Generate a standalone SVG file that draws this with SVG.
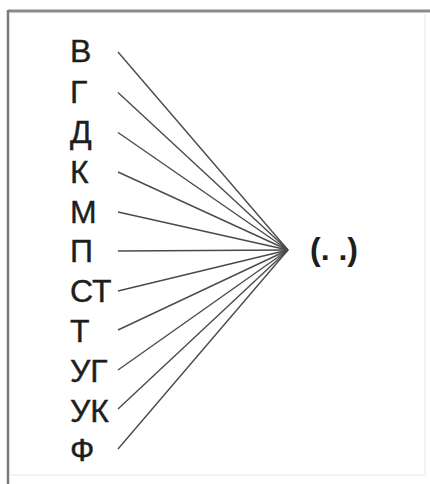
<svg xmlns="http://www.w3.org/2000/svg" width="430" height="484" viewBox="0 0 430 484">
<style>
.lbl{font-family:"Liberation Sans",Arial,sans-serif;font-size:32px;fill:#1e1e1e;stroke:#1e1e1e;stroke-width:0.4}
.res{font-family:"Liberation Sans",Arial,sans-serif;font-size:32px;font-weight:bold;fill:#1e1e1e}
.ln{stroke:#4a4a4a;stroke-width:1.4;fill:none}
</style>
<rect width="430" height="484" fill="#fff"/>
<g id="frame">
<line x1="8" y1="11" x2="430" y2="11" stroke="#8a8a8a" stroke-width="3"/>
<line x1="8" y1="10" x2="8" y2="484" stroke="#7a7a7a" stroke-width="2.5"/>
<line x1="425" y1="14" x2="425" y2="476" stroke="#f0f0f0" stroke-width="1.5"/>
<line x1="10" y1="475" x2="425" y2="475" stroke="#f0f0f0" stroke-width="1.5"/>
</g>
<g id="connectors">
<line class="ln" x1="118" y1="52" x2="288" y2="250"/>
<line class="ln" x1="118" y1="92.5" x2="288" y2="250"/>
<line class="ln" x1="118" y1="132.5" x2="288" y2="250"/>
<line class="ln" x1="118" y1="172" x2="288" y2="250"/>
<line class="ln" x1="118" y1="212" x2="288" y2="250"/>
<line class="ln" x1="118" y1="251" x2="288" y2="250"/>
<line class="ln" x1="118" y1="291" x2="288" y2="250"/>
<line class="ln" x1="118" y1="330" x2="288" y2="250"/>
<line class="ln" x1="118" y1="370" x2="288" y2="250"/>
<line class="ln" x1="118" y1="409" x2="288" y2="250"/>
<line class="ln" x1="118" y1="449" x2="288" y2="250"/>
</g>
<g id="n-v"><text class="lbl" x="70" y="62">В</text></g>
<g id="n-g"><text class="lbl" x="70" y="102.5">Г</text></g>
<g id="n-d"><text class="lbl" x="70" y="142.5">Д</text></g>
<g id="n-k"><text class="lbl" x="70" y="183">К</text></g>
<g id="n-m"><text class="lbl" x="70" y="222.5">М</text></g>
<g id="n-p"><text class="lbl" x="70" y="262">П</text></g>
<g id="n-st"><text class="lbl" x="70" y="302">СТ</text></g>
<g id="n-t"><text class="lbl" x="70" y="342">Т</text></g>
<g id="n-ug"><text class="lbl" x="70" y="382">УГ</text></g>
<g id="n-uk"><text class="lbl" x="70" y="422">УК</text></g>
<g id="n-f"><text class="lbl" x="70" y="461">Ф</text></g>
<g id="n-res"><text class="res" x="310" y="260">(. .)</text></g>
</svg>
